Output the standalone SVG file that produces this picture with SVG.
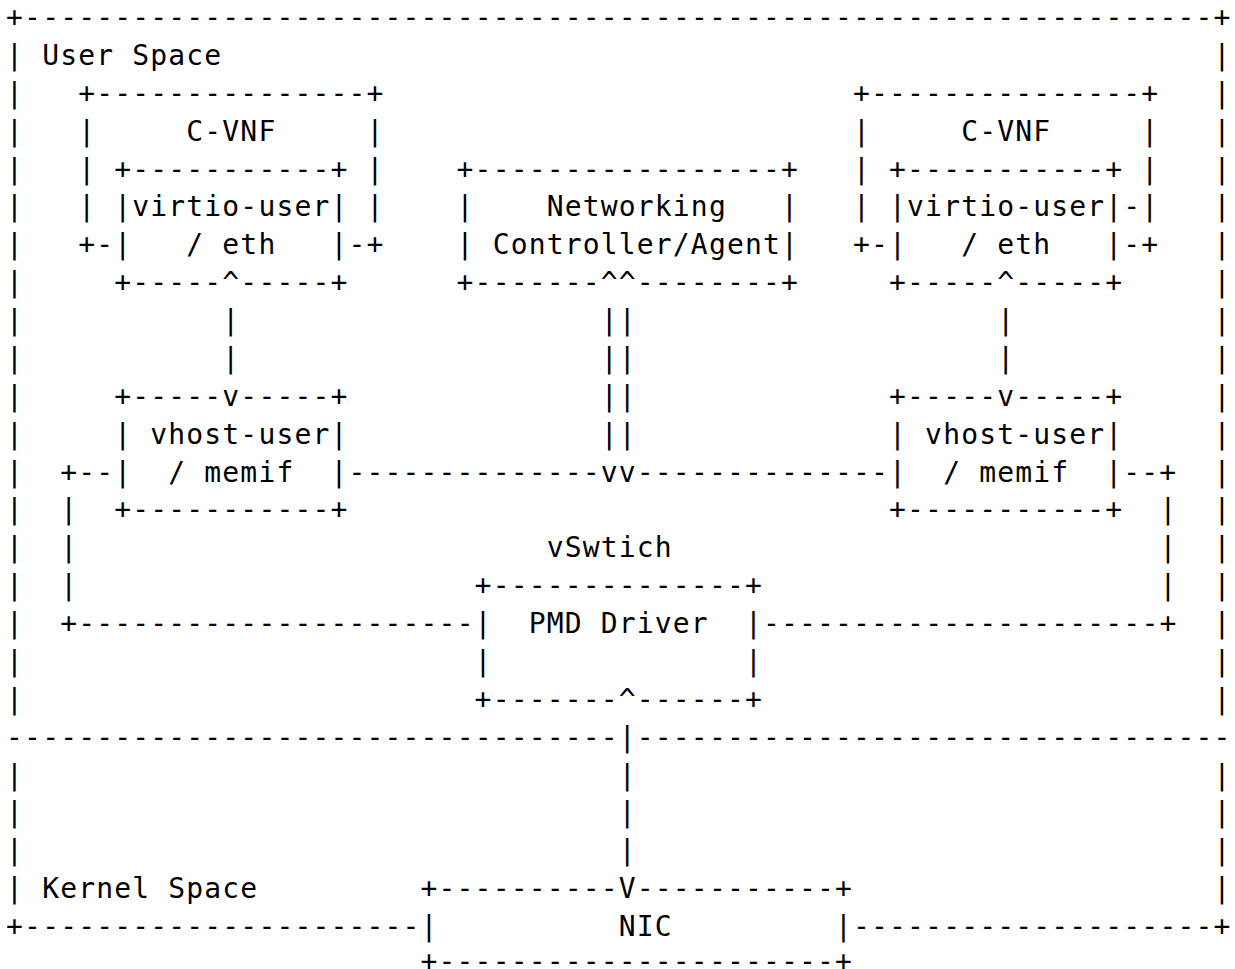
<svg xmlns="http://www.w3.org/2000/svg" width="1235" height="969" viewBox="0 0 1235 969" xml:space="preserve">
  <style>
    text { font-family: "DejaVu Sans Mono", "Liberation Mono", monospace; font-size: 28px; letter-spacing: 1.164px; fill: #000; white-space: pre; }
  </style>
  <rect x="0" y="0" width="1235" height="969" fill="#fff"/>

  <!-- character grid: column c starts at x = 6.1 + 18.02*c, row r baseline at y = 27 + 37.88*r -->

  <g id="user-space">
    <text>
      <tspan x="6.1" y="27">+------------------------------------------------------------------+</tspan>
      <tspan x="6.1" y="64.88">| User Space</tspan>
      <tspan x="6.1" y="102.76">|</tspan>
      <tspan x="6.1" y="140.64">|</tspan>
      <tspan x="6.1" y="178.52">|</tspan>
      <tspan x="6.1" y="216.4">|</tspan>
      <tspan x="6.1" y="254.28">|</tspan>
      <tspan x="6.1" y="292.16">|</tspan>
      <tspan x="6.1" y="330.04">|</tspan>
      <tspan x="6.1" y="367.92">|</tspan>
      <tspan x="6.1" y="405.8">|</tspan>
      <tspan x="6.1" y="443.68">|</tspan>
      <tspan x="6.1" y="481.56">|</tspan>
      <tspan x="6.1" y="519.44">|</tspan>
      <tspan x="6.1" y="557.32">|</tspan>
      <tspan x="6.1" y="595.2">|</tspan>
      <tspan x="6.1" y="633.08">|</tspan>
      <tspan x="6.1" y="670.96">|</tspan>
      <tspan x="6.1" y="708.84">|</tspan>
      <tspan x="1213.44" y="64.88">|</tspan>
      <tspan x="1213.44" y="102.76">|</tspan>
      <tspan x="1213.44" y="140.64">|</tspan>
      <tspan x="1213.44" y="178.52">|</tspan>
      <tspan x="1213.44" y="216.4">|</tspan>
      <tspan x="1213.44" y="254.28">|</tspan>
      <tspan x="1213.44" y="292.16">|</tspan>
      <tspan x="1213.44" y="330.04">|</tspan>
      <tspan x="1213.44" y="367.92">|</tspan>
      <tspan x="1213.44" y="405.8">|</tspan>
      <tspan x="1213.44" y="443.68">|</tspan>
      <tspan x="1213.44" y="481.56">|</tspan>
      <tspan x="1213.44" y="519.44">|</tspan>
      <tspan x="1213.44" y="557.32">|</tspan>
      <tspan x="1213.44" y="595.2">|</tspan>
      <tspan x="1213.44" y="633.08">|</tspan>
      <tspan x="1213.44" y="670.96">|</tspan>
      <tspan x="1213.44" y="708.84">|</tspan>
      <tspan x="6.1" y="746.72">----------------------------------</tspan>
      <tspan x="636.8" y="746.72">---------------------------------</tspan>
    </text>
  </g>

  <g id="kernel-space">
    <text>
      <tspan x="6.1" y="784.6">|</tspan>
      <tspan x="6.1" y="822.48">|</tspan>
      <tspan x="6.1" y="860.36">|</tspan>
      <tspan x="6.1" y="898.24">| Kernel Space</tspan>
      <tspan x="6.1" y="936.12">+----------------------</tspan>
      <tspan x="1213.44" y="784.6">|</tspan>
      <tspan x="1213.44" y="822.48">|</tspan>
      <tspan x="1213.44" y="860.36">|</tspan>
      <tspan x="1213.44" y="898.24">|</tspan>
      <tspan x="853.04" y="936.12">--------------------+</tspan>
    </text>
  </g>

  <g id="cvnf-left">
    <text>
      <tspan x="78.18" y="102.76">+---------------+</tspan>
      <tspan x="78.18" y="140.64">|     C-VNF     |</tspan>
      <tspan x="78.18" y="178.52">| +-----------+ |</tspan>
      <tspan x="78.18" y="216.4">| |virtio-user| |</tspan>
      <tspan x="78.18" y="254.28">+-|   / eth   |-+</tspan>
      <tspan x="114.22" y="292.16">+-----^-----+</tspan>
    </text>
  </g>

  <g id="cvnf-right">
    <text>
      <tspan x="853.04" y="102.76">+---------------+</tspan>
      <tspan x="853.04" y="140.64">|     C-VNF     |</tspan>
      <tspan x="853.04" y="178.52">| +-----------+ |</tspan>
      <tspan x="853.04" y="216.4">| |virtio-user|-|</tspan>
      <tspan x="853.04" y="254.28">+-|   / eth   |-+</tspan>
      <tspan x="889.08" y="292.16">+-----^-----+</tspan>
    </text>
  </g>

  <g id="controller">
    <text>
      <tspan x="456.6" y="178.52">+-----------------+</tspan>
      <tspan x="456.6" y="216.4">|    Networking   |</tspan>
      <tspan x="456.6" y="254.28">| Controller/Agent|</tspan>
      <tspan x="456.6" y="292.16">+-------^^--------+</tspan>
    </text>
  </g>

  <g id="vhost-left">
    <text>
      <tspan x="114.22" y="405.8">+-----v-----+</tspan>
      <tspan x="114.22" y="443.68">| vhost-user|</tspan>
      <tspan x="114.22" y="481.56">|  / memif  |</tspan>
      <tspan x="114.22" y="519.44">+-----------+</tspan>
    </text>
  </g>

  <g id="vhost-right">
    <text>
      <tspan x="889.08" y="405.8">+-----v-----+</tspan>
      <tspan x="889.08" y="443.68">| vhost-user|</tspan>
      <tspan x="889.08" y="481.56">|  / memif  |</tspan>
      <tspan x="889.08" y="519.44">+-----------+</tspan>
    </text>
  </g>

  <g id="vswitch">
    <text x="546.7" y="557.32">vSwtich</text>
  </g>

  <g id="pmd-driver">
    <text>
      <tspan x="474.62" y="595.2">+--------------+</tspan>
      <tspan x="474.62" y="633.08">|  PMD Driver  |</tspan>
      <tspan x="474.62" y="670.96">|              |</tspan>
      <tspan x="474.62" y="708.84">+-------^------+</tspan>
    </text>
  </g>

  <g id="nic">
    <text>
      <tspan x="420.56" y="898.24">+----------V-----------+</tspan>
      <tspan x="420.56" y="936.12">|          NIC         |</tspan>
      <!-- bottom edge sits a little higher so it stays inside the canvas -->
      <tspan x="420.56" y="971">+----------------------+</tspan>
    </text>
  </g>

  <g id="connectors">
    <text>
      <!-- virtio-user to vhost-user, left and right -->
      <tspan x="222.34" y="330.04">|</tspan>
      <tspan x="222.34" y="367.92">|</tspan>
      <tspan x="997.2" y="330.04">|</tspan>
      <tspan x="997.2" y="367.92">|</tspan>
      <!-- controller down to the vswitch bus -->
      <tspan x="600.76" y="330.04">||</tspan>
      <tspan x="600.76" y="367.92">||</tspan>
      <tspan x="600.76" y="405.8">||</tspan>
      <tspan x="600.76" y="443.68">||</tspan>
      <!-- memif bus -->
      <tspan x="60.16" y="481.56">+--</tspan>
      <tspan x="348.48" y="481.56">--------------vv--------------</tspan>
      <tspan x="1123.34" y="481.56">--+</tspan>
      <tspan x="60.16" y="519.44">|</tspan>
      <tspan x="60.16" y="557.32">|</tspan>
      <tspan x="60.16" y="595.2">|</tspan>
      <tspan x="1159.38" y="519.44">|</tspan>
      <tspan x="1159.38" y="557.32">|</tspan>
      <tspan x="1159.38" y="595.2">|</tspan>
      <tspan x="60.16" y="633.08">+----------------------</tspan>
      <tspan x="762.94" y="633.08">----------------------+</tspan>
      <!-- PMD driver down to NIC -->
      <tspan x="618.78" y="746.72">|</tspan>
      <tspan x="618.78" y="784.6">|</tspan>
      <tspan x="618.78" y="822.48">|</tspan>
      <tspan x="618.78" y="860.36">|</tspan>
    </text>
  </g>
</svg>
